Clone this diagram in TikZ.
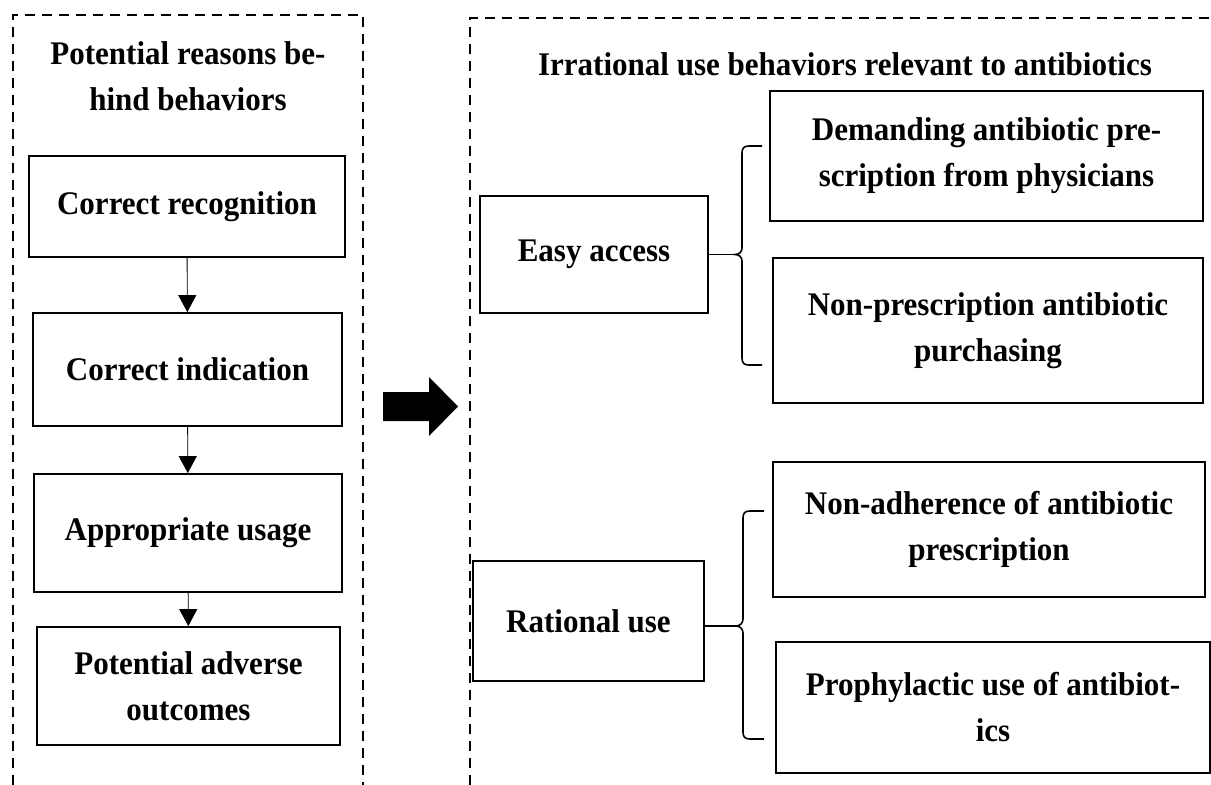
\documentclass[tikz,border=0pt]{standalone}
\usepackage{fontspec}
\setmainfont{Liberation Serif}[FakeStretch=0.94]
\usetikzlibrary{arrows.meta}

\begin{document}
\begin{tikzpicture}
[x=1pt,y=-1pt,every node/.style={font=\bfseries\fontsize{33}{46}\selectfont,align=center,inner sep=0pt},
box/.style={draw,line width=1.8pt},
frame/.style={dash pattern=on 10pt off 7pt,line width=1.8pt}]
\useasboundingbox (0,0) rectangle (1211,785);
% frames
\draw[frame] (13,785) |- (363,15) -- (363,785);
\draw[frame] (470,785) |- (1211,18);
\node (t1) at (188,76) {Potential reasons be-\\hind behaviors};
\node[anchor=base] (t2) at (845,75) {Irrational use behaviors relevant to antibiotics};
% left column
\node[box,minimum width=316pt,minimum height=101pt] (n1) at (187,206.5) {Correct recognition};
\node[box,minimum width=309pt,minimum height=113pt] (n2) at (187.5,369.5) {Correct indication};
\node[box,minimum width=308pt,minimum height=118pt] (n3) at (188,533) {Appropriate usage};
\node[box,minimum width=303pt,minimum height=118pt] (n4) at (188.5,686) {Potential adverse\\outcomes};
\foreach \from/\to in {n1/n2,n2/n3,n3/n4}
\draw[-{Triangle[width=18pt,length=17pt]},line width=0.9pt] (\from) -- (\to);
% big arrow
\fill (383,392) -- (429,392) -- (429,377) -- (458,406.5) -- (429,436) -- (429,421) -- (383,421) -- cycle;
% right part
\node[box,minimum width=228pt,minimum height=117pt] (e1) at (594,254.5) {Easy access};
\node[box,minimum width=231pt,minimum height=120pt] (e2) at (588.5,621) {Rational use};
\node[box,minimum width=433pt,minimum height=130pt] (s1) at (986.5,156) {Demanding antibiotic pre-\\scription from physicians};
\node[box,minimum width=430pt,minimum height=145pt] (s2) at (988,330.5) {Non-prescription antibiotic\\purchasing};
\node[box,minimum width=432pt,minimum height=135pt] (s3) at (989,529.5) {Non-adherence of antibiotic\\prescription};
\node[box,minimum width=434pt,minimum height=131pt] (s4) at (993,707.5) {Prophylactic use of antibiot-\\ics};
% braces
\coordinate (c1) at (735,254.5);
\coordinate (c2) at (736,626);
\draw[line width=1.6pt] (762,146) -- (749,146) .. controls (744,146) and (742,148) .. (742,153) -- (742,248)
 .. controls (742,252) and (739,254.5) .. (c1) .. controls (739,254.5) and (742,257) .. (742,261) -- (742,358)
 .. controls (742,363) and (744,365) .. (749,365) -- (762,365);
\draw[line width=1.6pt] (764,511) -- (750,511) .. controls (745,511) and (743,513) .. (743,518) -- (743,619)
 .. controls (743,623) and (740,626) .. (c2) .. controls (740,626) and (743,629) .. (743,633) -- (743,732)
 .. controls (743,737) and (745,739) .. (750,739) -- (764,739);
\draw[line width=1.6pt] (e1) -- (c1);
\draw[line width=1.6pt] ([yshift=-5pt]e2.east) -- (c2);
\end{tikzpicture}
\end{document}
